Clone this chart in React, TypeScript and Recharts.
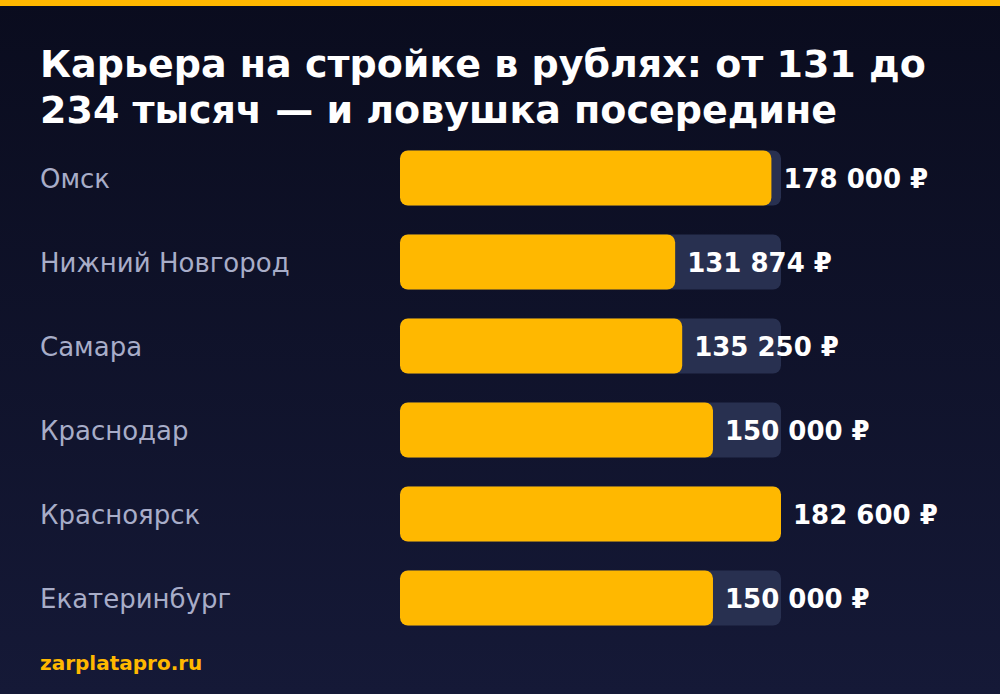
import React from 'react';
import { BarChart, Bar, XAxis, YAxis, LabelList } from 'recharts';

const cities = ['Омск', 'Нижний Новгород', 'Самара', 'Краснодар', 'Красноярск', 'Екатеринбург'];
const salaries = [178000, 131874, 135250, 150000, 182600, 150000];
const titleLines = ['Карьера на стройке в рублях: от 131 до', '234 тысяч — и ловушка посередине'];
const source = 'zarplatapro.ru';

const data = cities.map((city, i) => ({ city, value: salaries[i] }));
const maxValue = Math.max(...salaries);

const FONT = '"DejaVu Sans", sans-serif';
const fmt = (v: number) => v.toLocaleString('ru-RU').replace(/\s/g, ' ') + ' ₽';

function CityTick({ y, payload }: any) {
  return (
    <text x={40} y={y} dy={10} fill="#a8adc8" fontSize={26} fontFamily={FONT} textAnchor="start">
      {payload.value}
    </text>
  );
}

function ValueLabel({ x, y, width, height, value }: any) {
  return (
    <text x={x + width + 12} y={y + height / 2} dy={10} fill="#ffffff" fontSize={26} fontWeight="bold" fontFamily={FONT}>
      {fmt(value)}
    </text>
  );
}

export default function App() {
  return (
    <div
      style={{
        position: 'absolute', left: 0, top: 0, width: 1000, height: 694, overflow: 'hidden',
        background: 'linear-gradient(180deg, #0a0c1e 0%, #151937 100%)', fontFamily: FONT,
      }}
    >
      <div style={{ height: 6, background: '#ffb800' }} />
      <svg width={1000} height={140} style={{ position: 'absolute', left: 0, top: 0 }}>
        {titleLines.map((l, i) => (
          <text key={l} x={40} y={77 + i * 46} fill="#ffffff" fontSize={38} fontWeight="bold" fontFamily={FONT}>
            {l}
          </text>
        ))}
      </svg>
      <div style={{ position: 'absolute', left: 0, top: 0 }}>
        <BarChart
          width={1000}
          height={694}
          data={data}
          layout="vertical"
          margin={{ top: 135.5, right: 219, bottom: 54.5, left: 0 }}
          barSize={55}
        >
          <XAxis type="number" domain={[0, maxValue]} hide />
          <YAxis type="category" dataKey="city" width={400} axisLine={false} tickLine={false} tick={<CityTick />} />
          <Bar
            dataKey="value"
            fill="#ffb800"
            radius={8}
            background={{ fill: '#283050', radius: 8 }}
            isAnimationActive={false}
          >
            <LabelList dataKey="value" content={<ValueLabel />} />
          </Bar>
        </BarChart>
      </div>
      <svg width={1000} height={694} style={{ position: 'absolute', left: 0, top: 0, pointerEvents: 'none' }}>
        <text x={40} y={670} fill="#ffb800" fontSize={20} fontWeight="bold" fontFamily={FONT}>
          {source}
        </text>
      </svg>
    </div>
  );
}
